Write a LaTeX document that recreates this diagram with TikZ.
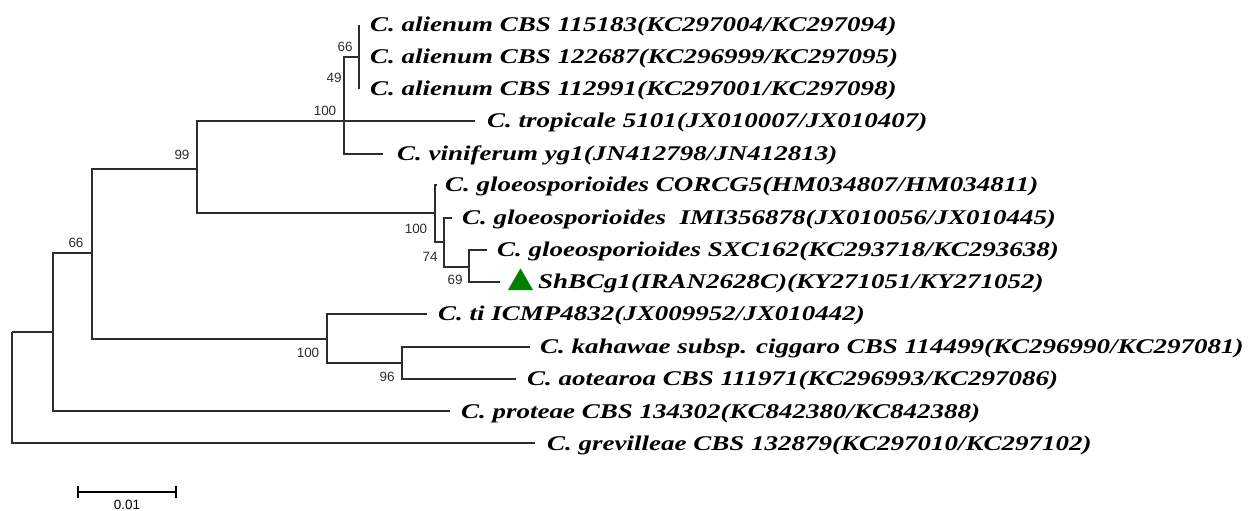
\documentclass[tikz,border=0pt]{standalone}
\usepackage{fontspec}
\usetikzlibrary{shapes.geometric}
\newfontfamily\taxfont{Liberation Serif}[FakeStretch=1.29]
\newfontfamily\lblfont{Liberation Sans}
\definecolor{treegray}{RGB}{45,45,45}
\definecolor{markgreen}{RGB}{0,128,0}
\tikzset{
  taxon/.style={anchor=base west, inner sep=0pt, font=\taxfont\bfseries\itshape\fontsize{21}{21}\selectfont},
  boot/.style={inner sep=0pt, font=\lblfont\fontsize{13.5}{13.5}\selectfont, text=treegray},
  branch/.style={draw=treegray, line width=1.25bp},
  scalebar/.style={draw=black, line width=2.2bp},
}
\begin{document}
\begin{tikzpicture}[x=1bp,y=-1bp]
\useasboundingbox (0,0) rectangle (1253,511);
% internal nodes
\coordinate (R) at (12,332);
\coordinate (A) at (53,332);
\coordinate (B) at (92,253);
\coordinate (C) at (197,169);
\coordinate (D) at (344,121);
\coordinate (E) at (344,89);
\coordinate (F) at (359,57);
\coordinate (G) at (435,213);
\coordinate (H) at (444,242);
\coordinate (I) at (469,267);
\coordinate (J) at (327,339);
\coordinate (K) at (402,363);
% leaf ends
\coordinate (l1) at (359,25);
\coordinate (l2) at (359,57);
\coordinate (l3) at (359,89);
\coordinate (l4) at (475,121);
\coordinate (l5) at (383,154);
\coordinate (l6) at (437,185);
\coordinate (l7) at (452,218);
\coordinate (l8) at (487,250);
\coordinate (l9) at (500,282);
\coordinate (l10) at (427,314);
\coordinate (l11) at (530,347);
\coordinate (l12) at (516,379);
\coordinate (l13) at (450,411);
\coordinate (l14) at (535,443);
% taxa
\node[taxon] (t1) at (370,32) {C. alienum CBS 115183(KC297004/KC297094)};
\node[taxon] (t2) at (370,64) {C. alienum CBS 122687(KC296999/KC297095)};
\node[taxon] (t3) at (370,96) {C. alienum CBS 112991(KC297001/KC297098)};
\node[taxon] (t4) at (487,128) {C. tropicale 5101(JX010007/JX010407)};
\node[taxon] (t5) at (397,161) {C. viniferum yg1(JN412798/JN412813)};
\node[taxon] (t6) at (445,192) {C. gloeosporioides CORCG5(HM034807/HM034811)};
\node[taxon] (t7) at (462,225) {C. gloeosporioides\ \ IMI356878(JX010056/JX010445)};
\node[taxon] (t8) at (497,257) {C. gloeosporioides SXC162(KC293718/KC293638)};
\node[taxon] (t9) at (538,289) {ShBCg1(IRAN2628C)(KY271051/KY271052)};
\node[taxon] (t10) at (438,321) {C. ti ICMP4832(JX009952/JX010442)};
\node[taxon] (t11) at (540,354) {C. kahawae subsp. ciggaro CBS 114499(KC296990/KC297081)};
\node[taxon] (t12) at (527,386) {C. aotearoa CBS 111971(KC296993/KC297086)};
\node[taxon] (t13) at (461,418) {C. proteae CBS 134302(KC842380/KC842388)};
\node[taxon] (t14) at (547,450) {C. grevilleae CBS 132879(KC297010/KC297102)};
% marker
\node[regular polygon, regular polygon sides=3, minimum size=28.9bp, inner sep=0pt, fill=markgreen] (tri) at (520.5,282.8) {};
% branches
\draw[branch] (R) |- (A);
\draw[branch] (R) |- (l14);
\draw[branch] (A) |- (B);
\draw[branch] (A) |- (l13);
\draw[branch] (B) |- (C);
\draw[branch] (B) |- (J);
\draw[branch] (C) |- (D);
\draw[branch] (C) |- (G);
\draw[branch, line width=2.6bp] (D) -- (E);
\draw[branch] (E) |- (F);
\draw[branch] (F) |- (l1);
\draw[branch] (F) -- (l2);
\draw[branch] (F) |- (l3);
\draw[branch] (D) -- (l4);
\draw[branch] (D) |- (l5);
\draw[branch] (G) |- (l6);
\draw[branch] (G) |- (H);
\draw[branch] (H) |- (l7);
\draw[branch] (H) |- (I);
\draw[branch] (I) |- (l8);
\draw[branch] (I) |- (l9);
\draw[branch] (J) |- (l10);
\draw[branch] (J) |- (K);
\draw[branch] (K) |- (l11);
\draw[branch] (K) |- (l12);
% bootstrap values
\node[boot] (bF) at (345,47) {66};
\node[boot] (bE) at (334,78) {49};
\node[boot] (bD) at (325,111) {100};
\node[boot] (bC) at (182,155) {99};
\node[boot] (bB) at (76,243) {66};
\node[boot] (bG) at (416,229) {100};
\node[boot] (bH) at (430,257) {74};
\node[boot] (bI) at (455,280) {69};
\node[boot] (bJ) at (308,353) {100};
\node[boot] (bK) at (387,377) {96};
% scale bar
\coordinate (s1) at (78,492);
\coordinate (s2) at (176,492);
\draw[scalebar] (s1) -- (s2);
\draw[scalebar] ([yshift=6bp]s1) -- ([yshift=-6bp]s1);
\draw[scalebar] ([yshift=6bp]s2) -- ([yshift=-6bp]s2);
\node[boot, text=black, anchor=south] (sl) at (127,510) {0.01};
\end{tikzpicture}
\end{document}
